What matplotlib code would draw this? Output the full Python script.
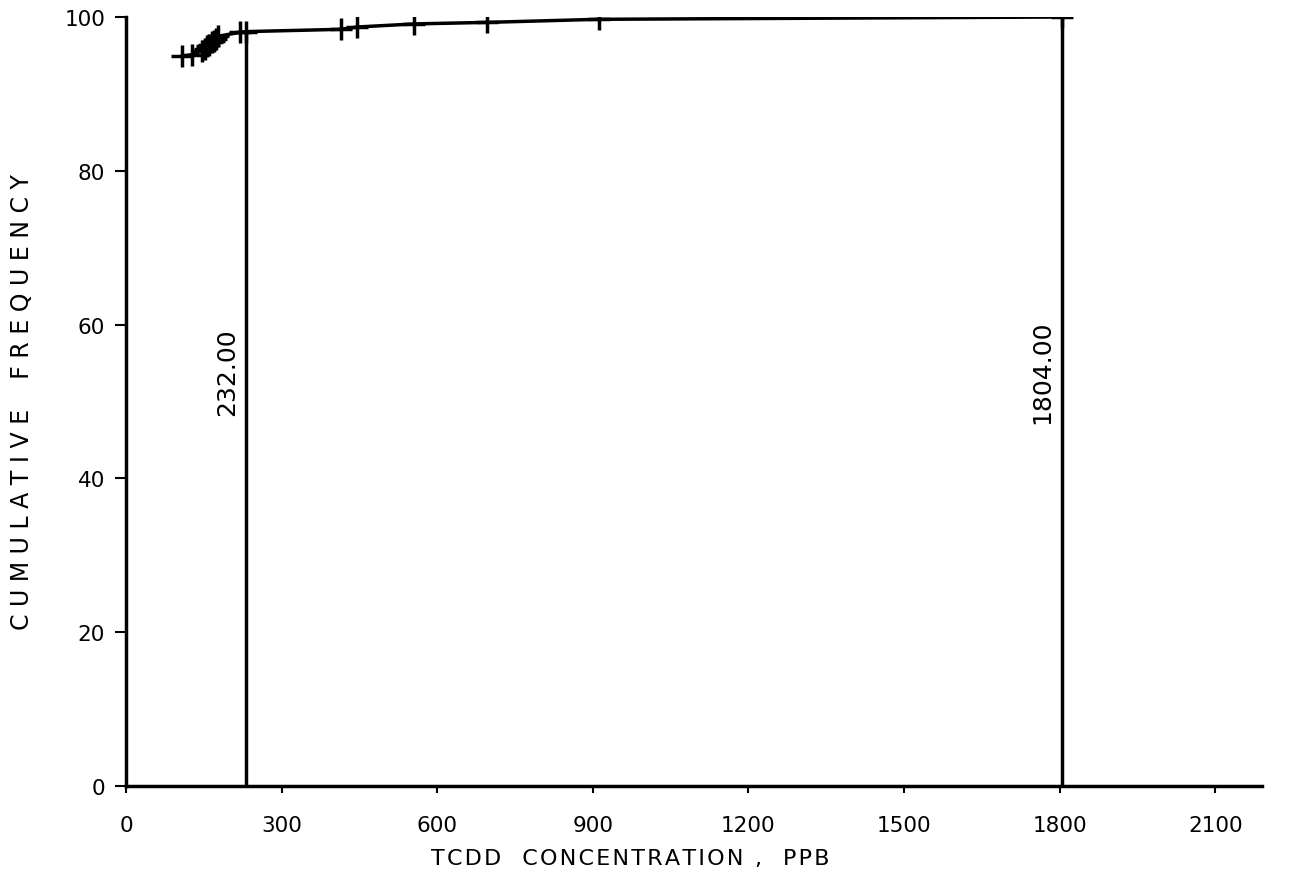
import matplotlib
matplotlib.use("Agg")
import matplotlib.pyplot as plt

# cumulative frequency curve (upper tail)
conc = [108, 127, 146, 152, 157, 161, 165, 169, 173, 178, 219, 232, 415, 446, 556, 696, 911, 1804]
cum_freq = [94.9, 95.1, 95.6, 95.9, 96.2, 96.4, 96.7, 96.9, 97.2, 97.5, 98.0, 98.1, 98.4, 98.7, 99.1, 99.3, 99.7, 100.0]

# marked concentrations (vertical drop lines)
marks = [232.0, 1804.0]
mark_freq = [98.1, 100.0]

xticks = [0, 300, 600, 900, 1200, 1500, 1800, 2100]
yticks = [0, 20, 40, 60, 80, 100]

plt.rcParams['font.family'] = ['DejaVu Sans']

fig = plt.figure(figsize=(12.96, 8.78), dpi=100)
ax = fig.add_axes([0.0972, 0.1036, 0.8766, 0.8759])

ax.plot(conc, cum_freq, color='black', lw=2.5, marker='+', markersize=16, mew=2.5)

for xv, yv in zip(marks, mark_freq):
    ax.plot([xv, xv], [0, yv], color='black', lw=2.5)
    ax.text(xv - 14, 54, f"{xv:.2f}", rotation=90, ha='right', va='center', fontsize=18)

ax.set_xlim(0, 2190)
ax.set_ylim(0, 100)
ax.set_xticks(xticks)
ax.set_yticks(yticks)
ax.tick_params(axis='both', direction='out', width=1.5, labelsize=15.5)
ax.tick_params(axis='y', length=8, pad=7)
ax.tick_params(axis='x', length=5, pad=16)

for side in ['top', 'right']:
    ax.spines[side].set_visible(False)
for side in ['left', 'bottom']:
    ax.spines[side].set_linewidth(2.5)

hs = "\u200a"
xlab = "TCDD  CONCENTRATION ,  PPB"
xlab = hs.join(xlab)
ax.set_xlabel(xlab, fontsize=16, labelpad=9)
ax.xaxis.set_label_coords(0.444, -0.081)
ax.set_ylabel("C U M U L A T I V E    F R E Q U E N C Y", fontsize=17, labelpad=22)

fig.savefig("out.png", dpi=100)
